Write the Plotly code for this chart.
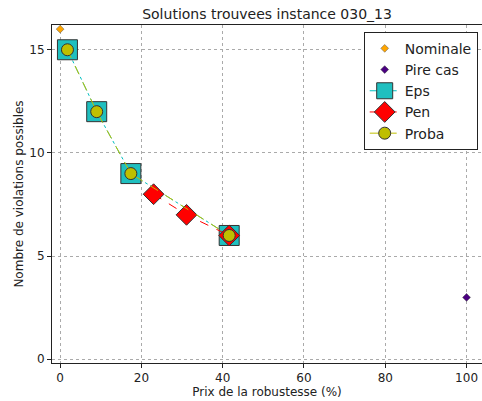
import plotly.graph_objects as go

# valeurs
nominale_x = [0]
nominale_y = [16]
pire_x = [100]
pire_y = [3]
eps_x = [1.8, 9.0, 17.4, 41.6]
eps_y = [15, 12, 9, 6]
pen_x = [23.0, 31.1, 41.6]
pen_y = [8, 7, 6]
proba_x = [1.8, 9.0, 17.4, 41.6]
proba_y = [15, 12, 9, 6]

edge = dict(color='#333333', width=1)

fig = go.Figure()
fig.add_trace(go.Scatter(x=nominale_x, y=nominale_y, mode='markers', name='Nominale',
                         marker=dict(symbol='diamond', size=6, color='#ffa500', line=dict(color='#555555', width=0.5))))
fig.add_trace(go.Scatter(x=pire_x, y=pire_y, mode='markers', name='Pire cas',
                         marker=dict(symbol='diamond', size=6, color='#4b0082', line=dict(color='#333333', width=0.5))))
fig.add_trace(go.Scatter(x=eps_x, y=eps_y, mode='lines+markers', name='Eps',
                         line=dict(color='#00bfbf', width=1, dash='dashdot'),
                         marker=dict(symbol='square', size=20, color='#1fbfbf', line=edge)))
fig.add_trace(go.Scatter(x=pen_x, y=pen_y, mode='lines+markers', name='Pen',
                         line=dict(color='#ff0000', width=1, dash='dash'),
                         marker=dict(symbol='diamond', size=16, color='#ff0000', line=edge)))
fig.add_trace(go.Scatter(x=proba_x, y=proba_y, mode='lines+markers', name='Proba',
                         line=dict(color='#bfbf00', width=1, dash='dash'),
                         marker=dict(symbol='circle', size=12, color='#bfbf00', line=edge)))

axis = dict(showline=True, linecolor='#222222', linewidth=1, mirror=True,
            showgrid=True, gridcolor='#aaaaaa', griddash='dot', gridwidth=1,
            zeroline=False, ticks='outside', ticklen=4, tickcolor='#222222',
            tickfont=dict(size=12, color='#222222'))

fig.update_layout(
    width=482, height=401,
    margin=dict(l=52, r=0, t=25, b=38),
    paper_bgcolor='white', plot_bgcolor='white',
    font=dict(family='DejaVu Sans', color='#222222'),
    title=dict(text='Solutions trouvees instance 030_13', x=0.554, xanchor='center',
               y=0.978, yanchor='top', font=dict(size=14)),
    xaxis=dict(axis, range=[-2, 103.8], tickvals=[0, 20, 40, 60, 80, 100],
               title=dict(text='Prix de la robustesse (%)', font=dict(size=12), standoff=2)),
    yaxis=dict(axis, range=[-0.18, 16.2], tickvals=[0, 5, 10, 15],
               title=dict(text='Nombre de violations possibles', font=dict(size=12), standoff=3)),
    legend=dict(x=0.99, y=0.98, xanchor='right', yanchor='top', bgcolor='white',
                bordercolor='#222222', borderwidth=1, font=dict(size=14),
                tracegroupgap=0, itemwidth=30),
    showlegend=True,
)

fig.write_html("out.html", config={'displayModeBar': False},
               post_script="document.body.style.margin='0';")
